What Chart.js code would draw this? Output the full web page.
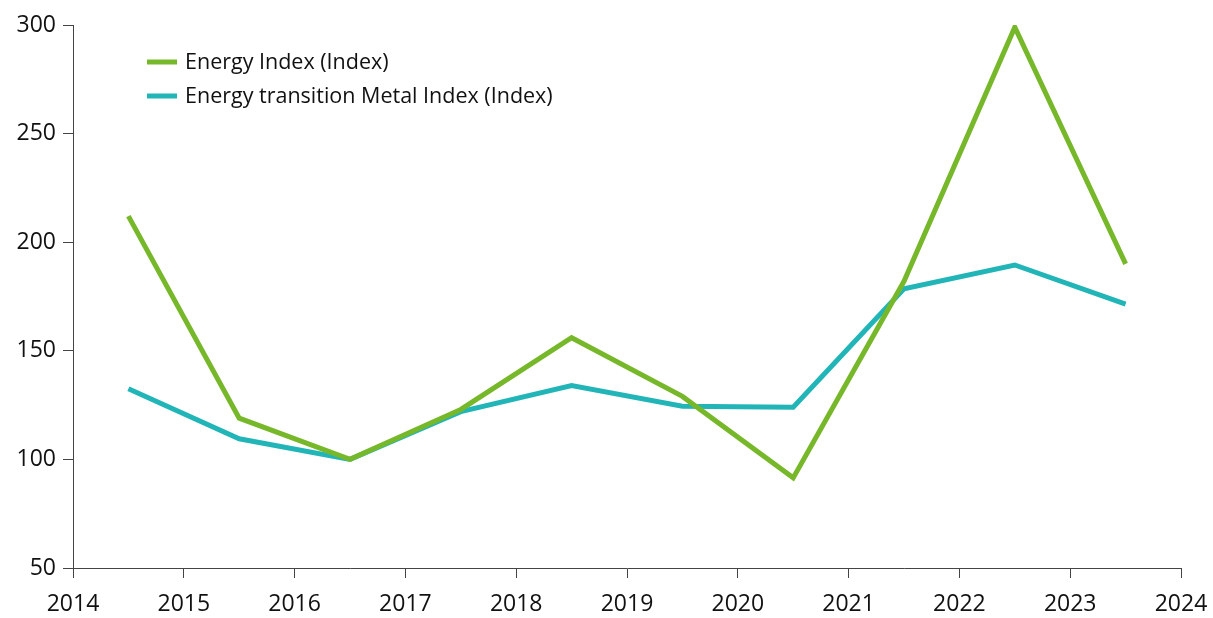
<!DOCTYPE html>
<html lang="en">
<head>
    <meta charset="UTF-8">
    <title>Energy Index vs Energy transition Metal Index</title>
    <script src="https://cdn.jsdelivr.net/npm/chart.js"></script>
    <style>
        html, body { margin: 0; padding: 0; background: #fff; }
        #wrap { width: 1213px; height: 618px; }
    </style>
</head>
<body>
    <div id="wrap"><canvas id="chart"></canvas></div>

    <script>
        // data (points sit mid-year)
        const years = [2014, 2015, 2016, 2017, 2018, 2019, 2020, 2021, 2022, 2023];
        const energyIndex = [212, 119, 100, 123, 156, 129, 91.5, 182, 299, 190];
        const metalIndex = [132.5, 109.5, 100, 122, 134, 124.5, 124, 178.5, 189.5, 171.5];
        const seriesNames = ['Energy Index (Index)', 'Energy transition Metal Index (Index)'];
        const seriesColors = ['#76b82a', '#22b5b8'];

        const FONT = '"Open Sans", "Noto Sans", sans-serif';

        function toPoints(vals) {
            return vals.map((v, i) => ({ x: years[i] + 0.5, y: v }));
        }

        // legend drawn inside the plot, top-left
        const innerLegend = {
            id: 'innerLegend',
            afterDraw(chart) {
                const ctx = chart.ctx;
                ctx.save();
                ctx.font = '21.5px ' + FONT;
                ctx.textBaseline = 'middle';
                chart.data.datasets.forEach((ds, i) => {
                    const y = 62 + i * 34;
                    ctx.strokeStyle = ds.borderColor;
                    ctx.lineWidth = 5;
                    ctx.beginPath();
                    ctx.moveTo(147, y);
                    ctx.lineTo(177, y);
                    ctx.stroke();
                    ctx.fillStyle = '#111';
                    ctx.fillText(ds.label, 185, y + 1);
                });
                ctx.restore();
            }
        };

        const ctx = document.getElementById('chart').getContext('2d');
        new Chart(ctx, {
            type: 'line',
            data: {
                datasets: [
                    { label: seriesNames[0], data: toPoints(energyIndex), borderColor: seriesColors[0], backgroundColor: seriesColors[0], borderWidth: 5, pointRadius: 0, tension: 0 },
                    { label: seriesNames[1], data: toPoints(metalIndex), borderColor: seriesColors[1], backgroundColor: seriesColors[1], borderWidth: 5, pointRadius: 0, tension: 0 }
                ]
            },
            options: {
                responsive: true,
                maintainAspectRatio: false,
                animation: false,
                layout: { padding: { top: 25, right: 32, left: 0, bottom: 0 } },
                plugins: {
                    legend: { display: false },
                    tooltip: { enabled: false }
                },
                scales: {
                    x: {
                        type: 'linear',
                        min: 2014,
                        max: 2024,
                        afterFit(scale) {
                            scale.height = 50;
                            scale.paddingLeft = 0;
                            scale.paddingRight = 0;
                        },
                        ticks: {
                            stepSize: 1,
                            color: '#111',
                            font: { family: FONT, size: 23 },
                            padding: 13,
                            maxRotation: 0,
                            callback: v => String(v)
                        },
                        grid: { drawOnChartArea: false, drawTicks: true, tickLength: 10, color: '#444' },
                        border: { display: true, color: '#444', width: 1 }
                    },
                    y: {
                        min: 50,
                        max: 300,
                        afterFit(scale) { scale.width = 73; },
                        ticks: {
                            stepSize: 50,
                            color: '#111',
                            font: { family: FONT, size: 23 },
                            padding: 7
                        },
                        grid: { drawOnChartArea: false, drawTicks: true, tickLength: 10, color: '#444' },
                        border: { display: true, color: '#444', width: 1 }
                    }
                }
            },
            plugins: [innerLegend]
        });
    </script>
</body>
</html>
